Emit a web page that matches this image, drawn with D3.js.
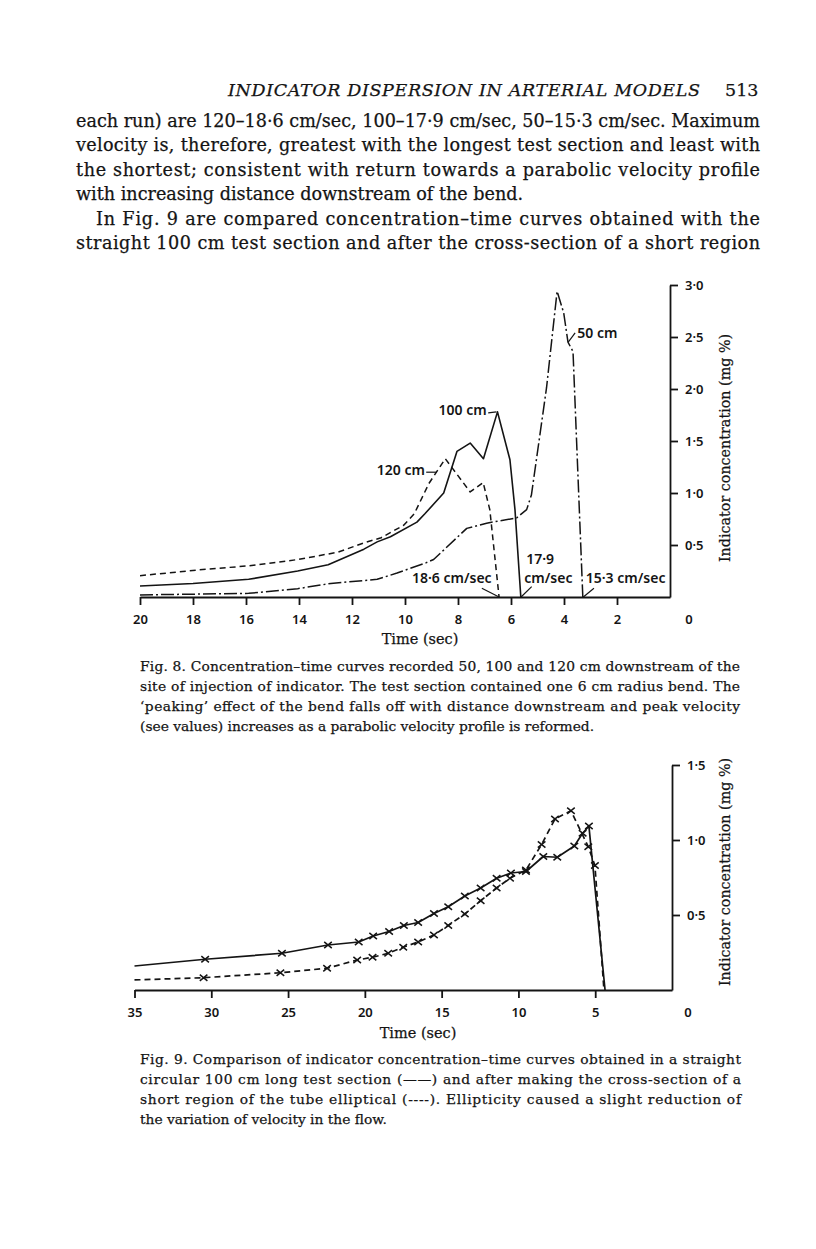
<!DOCTYPE html>
<html>
<head>
<meta charset="utf-8">
<script src="https://cdn.jsdelivr.net/npm/d3@7"></script>
<style>
  body { margin: 0; background: #fff; }
  svg text { fill: #141414; }
  .serif { font-family: "DejaVu Serif", serif; stroke: #141414; stroke-width: 0.25; }
  .sans { font-family: "Noto Sans", sans-serif; font-weight: 600; }
  .curve { fill: none; stroke: #141414; stroke-linejoin: round; }
  .axis path, .axis line { stroke: #141414; stroke-width: 1.8; }
</style>
</head>
<body>
<svg id="page" width="816" height="1249"></svg>
<script>
'use strict';

// ---- Fig. 8: concentration (mg %) against time (sec) ----
var f8_120_t = [20, 17.8, 15.9, 14.05, 12.55, 11.55, 10.9, 10.05, 9.65, 9.1, 8.48, 7.54, 7.05, 6.8, 6.45];
var f8_120_c = [0.205, 0.26, 0.30, 0.36, 0.43, 0.52, 0.57, 0.69, 0.80, 1.09, 1.33, 1.01, 1.10, 0.84, 0];

var f8_100_t = [20, 18, 15.9, 14.05, 12.9, 11.55, 11.05, 10.55, 9.55, 9.25, 8.54, 8.04, 7.54, 7.04, 6.51, 6.04, 5.85, 5.63];
var f8_100_c = [0.106, 0.13, 0.17, 0.25, 0.31, 0.46, 0.53, 0.58, 0.72, 0.80, 1.0, 1.40, 1.48, 1.33, 1.78, 1.32, 0.84, 0];

var f8_50_t = [20, 15.9, 14.05, 12.8, 11.05, 10.3, 9.2, 8.92, 7.67, 6.92, 5.79, 5.41, 5.23, 4.66, 4.26, 4.01, 3.85, 3.66, 3.29];
var f8_50_c = [0.02, 0.035, 0.08, 0.13, 0.17, 0.23, 0.33, 0.36, 0.66, 0.71, 0.76, 0.84, 0.98, 2.01, 2.94, 2.73, 2.45, 2.36, 0];

var f8_xticks = [20, 18, 16, 14, 12, 10, 8, 6, 4, 2];
var f8_yticks = [0.5, 1.0, 1.5, 2.0, 2.5, 3.0];

// labels and their leader lines, in data units (t, c)
var f8_labels = [
  {s: '50 cm', t: 3.5, c: 2.49, anchor: 'start', from: [3.84, 2.45], to: [3.58, 2.54]},
  {s: '100 cm', t: 6.92, c: 1.75, anchor: 'end', from: [6.86, 1.77], to: [6.55, 1.78]},
  {s: '120 cm', t: 9.25, c: 1.17, anchor: 'end', from: [9.2, 1.2], to: [8.8, 1.2]},
  {s: '18·6 cm/sec', t: 6.73, c: 0.135, anchor: 'end', from: [7.1, 0.084], to: [6.45, 0]},
  {s: '17·9', t: 4.9, c: 0.318, anchor: 'middle', from: [5.22, 0.1], to: [5.62, 0]},
  {s: 'cm/sec', t: 4.59, c: 0.135, anchor: 'middle'},
  {s: '15·3 cm/sec', t: 3.18, c: 0.135, anchor: 'start', from: [2.87, 0.084], to: [3.27, 0]}
];

// ---- Fig. 9 ----
var f9_solid_t = [35, 30.4, 25.4, 22.4, 20.4, 19.46, 18.42, 17.46, 16.53, 15.5, 14.57, 13.49, 12.46, 11.42, 10.49, 9.51, 8.38, 7.47, 6.36, 5.82, 5.41, 4.36];
var f9_solid_c = [0.16, 0.205, 0.245, 0.30, 0.32, 0.36, 0.39, 0.43, 0.45, 0.51, 0.555, 0.627, 0.68, 0.745, 0.78, 0.79, 0.89, 0.885, 0.96, 1.045, 1.093, 0];

var f9_dash_t = [35, 30.5, 25.5, 22.46, 20.5, 19.5, 18.48, 17.5, 16.53, 15.5, 14.57, 13.49, 12.46, 11.42, 10.55, 9.51, 8.49, 7.62, 6.58, 5.45, 5.02, 4.43];
var f9_dash_c = [0.067, 0.082, 0.115, 0.145, 0.20, 0.218, 0.245, 0.285, 0.32, 0.367, 0.43, 0.507, 0.595, 0.68, 0.745, 0.80, 0.97, 1.14, 1.195, 0.955, 0.83, 0];

var f9_xticks = [35, 30, 25, 20, 15, 10, 5];
var f9_yticks = [0.5, 1.0, 1.5];

// ---- page text ----
var header = 'INDICATOR DISPERSION IN ARTERIAL MODELS';
var pageNo = '513';
var bodyText = [
  'each run) are 120–18·6 cm/sec, 100–17·9 cm/sec, 50–15·3 cm/sec. Maximum',
  'velocity is, therefore, greatest with the longest test section and least with',
  'the shortest; consistent with return towards a parabolic velocity profile',
  'with increasing distance downstream of the bend.',
  'In Fig. 9 are compared concentration–time curves obtained with the',
  'straight 100 cm test section and after the cross-section of a short region'
];
var caption8 = [
  'Fig. 8.  Concentration–time curves recorded 50, 100 and 120 cm downstream of the',
  'site of injection of indicator. The test section contained one 6 cm radius bend. The',
  '‘peaking’ effect of the bend falls off with distance downstream and peak velocity',
  '(see values) increases as a parabolic velocity profile is reformed.'
];
var caption9 = [
  'Fig. 9.  Comparison of indicator concentration–time curves obtained in a straight',
  'circular 100 cm long test section (——) and after making the cross-section of a',
  'short region of the tube elliptical (----). Ellipticity caused a slight reduction of',
  'the variation of velocity in the flow.'
];

var svg = d3.select('#page');
var fmt = function(d) { return d.toFixed(1).replace('.', '·'); };

function zip(ts, cs) {
  return ts.map(function(t, i) { return [t, cs[i]]; });
}

// text block, lines justified except the ones flagged as last
function textBlock(lines, o) {
  lines.forEach(function(s, i) {
    var ind = (o.indent && o.indent[i]) || 0;
    var t = svg.append('text')
      .attr('class', 'serif')
      .attr('x', o.left + ind)
      .attr('y', o.top + i * o.lh)
      .style('font-size', o.size + 'px')
      .text(s);
    if (o.last.indexOf(i) < 0) {
      t.attr('textLength', o.right - o.left - ind).attr('lengthAdjust', 'spacing');
    }
  });
}

svg.append('text').attr('class', 'serif')
  .attr('x', 228).attr('y', 96)
  .style('font-size', '17.5px').style('font-style', 'italic')
  .attr('textLength', 472).attr('lengthAdjust', 'spacing')
  .text(header);
svg.append('text').attr('class', 'serif')
  .attr('x', 725).attr('y', 96)
  .style('font-size', '17.5px')
  .text(pageNo);

textBlock(bodyText, {left: 76, right: 760, top: 127, lh: 24.4, size: 17.6, indent: {4: 20}, last: [3]});
textBlock(caption8, {left: 140, right: 740, top: 671, lh: 20, size: 13.8, last: [3]});
textBlock(caption9, {left: 140, right: 741, top: 1064, lh: 20, size: 13.8, last: [3]});

// ---- Fig. 8 ----
var x8 = d3.scaleLinear().domain([20, 0]).range([140, 670]);
var y8 = d3.scaleLinear().domain([0, 3]).range([597, 285]);

var g8 = svg.append('g');

g8.append('g')
  .attr('class', 'axis')
  .attr('transform', 'translate(0,' + y8(0) + ')')
  .call(d3.axisBottom(x8).tickValues(f8_xticks).tickSize(8).tickSizeOuter(0).tickPadding(10).tickFormat(d3.format('d')));

g8.append('g')
  .attr('class', 'axis')
  .attr('transform', 'translate(' + x8(0) + ',0)')
  .call(d3.axisRight(y8).tickValues(f8_yticks).tickSize(8).tickSizeOuter(0).tickPadding(7).tickFormat(fmt));

g8.selectAll('.axis text').attr('class', 'sans').style('font-size', '13px').attr('fill', null);
g8.append('text').attr('class', 'sans')
  .attr('x', x8(0) + 19).attr('y', y8(0) + 27)
  .attr('text-anchor', 'middle').style('font-size', '13px').text('0');

var line8 = d3.line()
  .x(function(d) { return x8(d[0]); })
  .y(function(d) { return y8(d[1]); });

g8.append('path').attr('class', 'curve').attr('d', line8(zip(f8_120_t, f8_120_c)))
  .attr('stroke-width', 1.5).attr('stroke-dasharray', '6,4');
g8.append('path').attr('class', 'curve').attr('d', line8(zip(f8_100_t, f8_100_c)))
  .attr('stroke-width', 1.6);
g8.append('path').attr('class', 'curve').attr('d', line8(zip(f8_50_t, f8_50_c)))
  .attr('stroke-width', 1.5).attr('stroke-dasharray', '13,3,2,3');

f8_labels.forEach(function(l) {
  g8.append('text').attr('class', 'sans')
    .attr('x', x8(l.t)).attr('y', y8(l.c))
    .attr('text-anchor', l.anchor)
    .style('font-size', '14px')
    .text(l.s);
  if (l.from) {
    g8.append('path').attr('class', 'curve').attr('stroke-width', 1.2)
      .attr('d', line8([l.from, l.to]));
  }
});

g8.append('text').attr('class', 'serif')
  .attr('x', 420).attr('y', 644)
  .attr('text-anchor', 'middle').style('font-size', '14.5px')
  .text('Time (sec)');
g8.append('text').attr('class', 'serif')
  .attr('transform', 'translate(730,448) rotate(-90)')
  .attr('text-anchor', 'middle').style('font-size', '14.3px')
  .text('Indicator concentration (mg %)');

// ---- Fig. 9 ----
var x9 = d3.scaleLinear().domain([35, 0]).range([134.5, 672]);
var y9 = d3.scaleLinear().domain([0, 1.5]).range([990, 765]);

var g9 = svg.append('g');

g9.append('g')
  .attr('class', 'axis')
  .attr('transform', 'translate(0,' + y9(0) + ')')
  .call(d3.axisBottom(x9).tickValues(f9_xticks).tickSize(8).tickSizeOuter(0).tickPadding(10).tickFormat(d3.format('d')));

g9.append('g')
  .attr('class', 'axis')
  .attr('transform', 'translate(' + x9(0) + ',0)')
  .call(d3.axisRight(y9).tickValues(f9_yticks).tickSize(8).tickSizeOuter(0).tickPadding(7).tickFormat(fmt));

g9.selectAll('.axis text').attr('class', 'sans').style('font-size', '13px').attr('fill', null);
g9.append('text').attr('class', 'sans')
  .attr('x', x9(0) + 16).attr('y', y9(0) + 27)
  .attr('text-anchor', 'middle').style('font-size', '13px').text('0');

var line9 = d3.line()
  .x(function(d) { return x9(d[0]); })
  .y(function(d) { return y9(d[1]); });

var solid9 = zip(f9_solid_t, f9_solid_c);
var dash9 = zip(f9_dash_t, f9_dash_c);

g9.append('path').attr('class', 'curve').attr('d', line9(solid9)).attr('stroke-width', 1.7);
g9.append('path').attr('class', 'curve').attr('d', line9(dash9))
  .attr('stroke-width', 1.7).attr('stroke-dasharray', '6,4');

var cross = 'M-3.8,-3.1L3.8,3.1M-3.8,3.1L3.8,-3.1';
[solid9, dash9].forEach(function(pts) {
  g9.selectAll(null)
    .data(pts.slice(1, pts.length - 1))
    .enter().append('path')
    .attr('class', 'curve')
    .attr('stroke-width', 1.5)
    .attr('transform', function(d) { return 'translate(' + x9(d[0]) + ',' + y9(d[1]) + ')'; })
    .attr('d', cross);
});

g9.append('text').attr('class', 'serif')
  .attr('x', 418).attr('y', 1038)
  .attr('text-anchor', 'middle').style('font-size', '14.5px')
  .text('Time (sec)');
g9.append('text').attr('class', 'serif')
  .attr('transform', 'translate(730,872) rotate(-90)')
  .attr('text-anchor', 'middle').style('font-size', '14.3px')
  .text('Indicator concentration (mg %)');
</script>
</body>
</html>
